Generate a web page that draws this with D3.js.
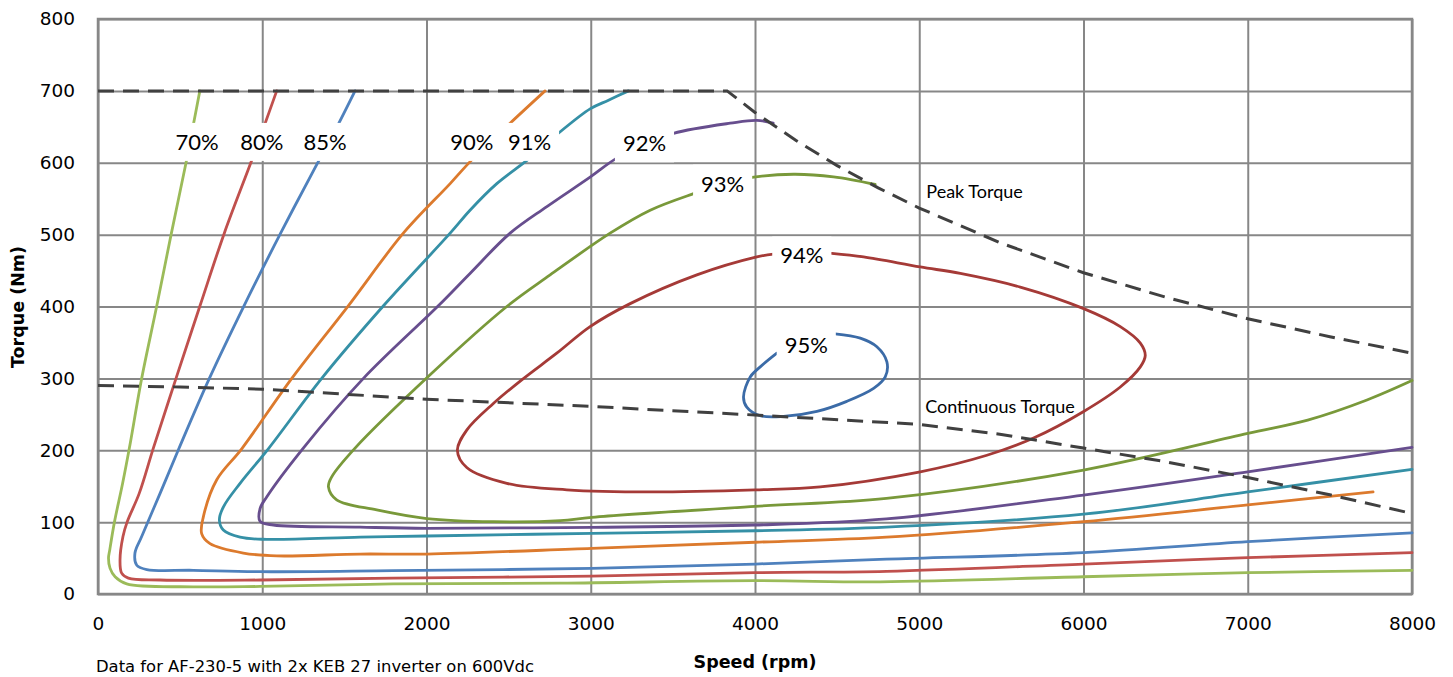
<!DOCTYPE html>
<html>
<head>
<meta charset="utf-8">
<script src="https://cdn.jsdelivr.net/npm/d3@7"></script>
<style>
body { margin: 0; background: #fff; }
.tick text { font-family: "DejaVu Sans"; font-size: 18.5px; fill: #000; }
.grid line { stroke: #878787; stroke-width: 2; }
.lbl { font-family: Lato; font-size: 22px; fill: #000; }
.note { font-family: Lato; font-size: 18px; fill: #000; }
.title { font-family: "DejaVu Sans"; font-weight: bold; font-size: 17.5px; fill: #000; }
</style>
</head>
<body>
<svg id="chart" width="1453" height="677"></svg>
<script>
// tick values
const speedTicks = [0, 1000, 2000, 3000, 4000, 5000, 6000, 7000, 8000]
const torqueTicks = [0, 100, 200, 300, 400, 500, 600, 700, 800]

// limit curves [rpm, Nm]
const peakTorque = [[0,700],[3830,700],[4000,670],[4250,631],[4500,596],[4750,565],[5000,537],[5500,488],[6000,447],[6500,413],[7000,383],[7500,358],[8000,335]]
const continuousTorque = [[0,290],[500,288],[1000,285],[2000,271],[3000,261],[4000,249],[5000,236],[5500,222],[6000,203],[6500,184],[7000,162],[7500,138],[8000,112]]

// efficiency contours [rpm, Nm]
const eff70 = [[620,700],[578,650],[536,600],[445,500],[357,400],[266,300],[191,203],[150,154],[100,100],[72,62],[64,50],[73,36],[104,24],[175,14],[579,10],[987,10.5],[1797,14],[2814,15],[4001,18.5],[4762,17],[6000,24],[7000,29.6],[8000,33]]
const eff80 = [[1088,700],[1010,650],[932,601],[769,502],[621,401],[475,300],[337,203],[251,140],[177,100],[152,80],[134,47],[144,29],[185,22],[378,19.5],[987,19.5],[1797,22],[3006,25],[4001,29.7],[4800,31.5],[6000,41.7],[7000,50.5],[8000,57.5]]
const eff85 = [[1565,700],[1455,650],[1342,602],[1112,502],[889,401],[678,300],[490,201],[378,140],[266,80],[225,57],[236,40],[297,34],[580,33],[987,31],[1797,32.5],[3006,35.7],[4001,41.7],[4800,48.5],[6000,57.5],[7000,72.8],[8000,85]]
const eff90 = [[2722,700],[2509,655],[2276,604],[2144,571],[1859,502],[1524,401],[1180,300],[875,202],[723,159],[641,107],[631,84],[682,70],[885,57],[1088,53],[1596,55.6],[2002,55.6],[3006,63.5],[4001,72],[4800,79],[6000,100.6],[7000,124],[7763,142]]
const eff91 = [[3230,700],[3108,687],[2996,675],[2803,641],[2621,605],[2428,571],[2265,534],[2144,502],[1738,401],[1362,300],[1037,202],[865,154],[763,121],[739,103],[763,89],[865,79],[1027,76],[1596,79],[2002,80.7],[3006,84.4],[4001,88],[4800,93],[6000,111],[7000,142],[8000,173.5]]
const eff92 = [[4111,655],[4011,659],[3849,655],[3504,641],[3327,625],[3149,605],[2996,580],[2733,539],[2509,502],[2265,446],[2072,401],[1616,300],[1250,203],[1027,135],[987,119],[987,101],[1068,96],[1596,93],[2002,91.4],[3006,92.8],[4001,96],[4800,104.5],[6000,137.7],[7000,170],[8000,204]]
const eff93 = [[4732,570],[4478,580.5],[4235,584],[3981,579.6],[3802,570],[3626,557],[3362,534],[3118,502],[2753,444],[2489,400],[2022,305],[1565,203],[1423,163],[1403,149],[1453,131],[1697,117],[2002,105],[2407,100.6],[2814,102],[3006,106.7],[4001,122],[4800,133],[6000,172.5],[7000,223.5],[7365,242],[7726,270],[8000,297]]
const eff94 = [[4468,474],[4661,469],[5006,455],[5250,446],[5615,427],[6001,397],[6224,372],[6346,349],[6376,332],[6346,316],[6224,288],[6001,254],[5696,217],[5412,193],[5006,170],[4397,149],[4001,145],[3362,142],[2854,145],[2489,154],[2245,176],[2188,200],[2245,228],[2407,265],[2580,298],[2793,335],[2996,372],[3240,404],[3646,444],[4011,469],[4112,473]]
const eff95 = [[4488,362],[4641,356],[4742,344],[4803,323],[4793,302],[4722,286],[4559,268],[4377,254],[4174,247],[4032,248],[3950,260],[3930,274],[3971,302],[4032,316],[4133,335]]

const levels = ["70%", "80%", "85%", "90%", "91%", "92%", "93%", "94%", "95%"]
const contours = [eff70, eff80, eff85, eff90, eff91, eff92, eff93, eff94, eff95]
// where each level label sits [rpm, Nm]
const labelAt = [[603,629],[997,629],[1382,629],[2276,629],[2627,629],[3327,627],[3803,571],[4285,471],[4312,346]]

const colors = ["#9BBB59", "#C0504D", "#4F81BD", "#DC7A2D", "#3590A6", "#674E8E", "#79993A", "#A53A37", "#3B6BA7"]

let svg = d3.select("#chart")
let plotLeft = 98, plotRight = 1412, plotTop = 19, plotBottom = 594

let xScale = d3.scaleLinear().domain([0, 8000]).range([plotLeft, plotRight])
let yScale = d3.scaleLinear().domain([0, 800]).range([plotBottom, plotTop])

svg.append("rect").attr("width", 1453).attr("height", 677).attr("fill", "#fff")

// grid + tick labels
svg.append("g").attr("class", "grid")
    .attr("transform", `translate(0,${plotBottom})`)
    .call(d3.axisBottom(xScale).tickValues(speedTicks).tickSize(-(plotBottom - plotTop)).tickPadding(23).tickFormat(d3.format("d")))
    .call(g => g.select(".domain").remove())

svg.append("g").attr("class", "grid")
    .attr("transform", `translate(${plotLeft},0)`)
    .call(d3.axisLeft(yScale).tickValues(torqueTicks).tickSize(-(plotRight - plotLeft)).tickPadding(23).tickFormat(d3.format("d")))
    .call(g => g.select(".domain").remove())

svg.append("rect")
    .attr("x", plotLeft).attr("y", plotTop)
    .attr("width", plotRight - plotLeft).attr("height", plotBottom - plotTop)
    .attr("fill", "none").attr("stroke", "#878787").attr("stroke-width", 2.5)

let line = d3.line()
    .x(d => xScale(d[0]))
    .y(d => yScale(d[1]))
    .curve(d3.curveCatmullRom.alpha(0.5))

contours.forEach(function (c, i) {
    svg.append("path")
        .attr("d", line(c))
        .attr("fill", "none")
        .attr("stroke", colors[i])
        .attr("stroke-width", 2.8)
        .attr("stroke-linecap", "round")
        .attr("stroke-linejoin", "round")
})

// dashed limit lines
let straight = d3.line().x(d => xScale(d[0])).y(d => yScale(d[1]))
;[peakTorque, continuousTorque].forEach(function (c) {
    svg.append("path")
        .attr("d", straight(c))
        .attr("fill", "none")
        .attr("stroke", "#404040")
        .attr("stroke-width", 3)
        .attr("stroke-dasharray", "16,9")
})

// level labels with white boxes
levels.forEach(function (d, i) {
    let g = svg.append("g")
        .attr("transform", `translate(${xScale(labelAt[i][0])},${yScale(labelAt[i][1])})`)
    let box = g.append("rect").attr("fill", "#fff")
    let t = g.append("text").attr("class", "lbl")
        .attr("text-anchor", "middle").attr("dy", "0.36em").text(d)
    let w = t.node().getComputedTextLength() + 16
    box.attr("x", -w / 2).attr("y", -19).attr("width", w).attr("height", 38)
})

svg.append("text").attr("class", "note")
    .attr("x", xScale(5043)).attr("y", yScale(551)).text("Peak Torque")
svg.append("text").attr("class", "note")
    .attr("x", xScale(5036)).attr("y", yScale(252)).text("Continuous Torque")

// axis titles
svg.append("text").attr("class", "title")
    .attr("x", 755).attr("y", 668).attr("text-anchor", "middle").text("Speed (rpm)")
svg.append("text").attr("class", "title")
    .attr("transform", "translate(24,307) rotate(-90)")
    .attr("text-anchor", "middle").text("Torque (Nm)")

svg.append("text")
    .attr("x", 96).attr("y", 672)
    .style("font-family", "DejaVu Sans").style("font-size", "16.4px")
    .text("Data for AF-230-5 with 2x KEB 27 inverter on 600Vdc")
</script>
</body>
</html>
